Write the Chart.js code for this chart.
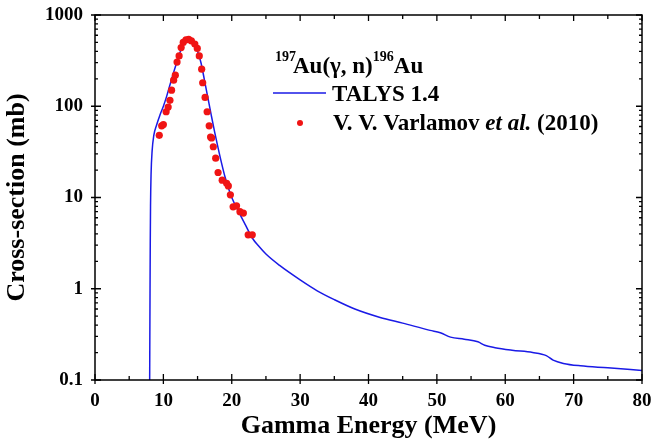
<!DOCTYPE html>
<html>
<head>
<meta charset="utf-8">
<script src="https://cdn.jsdelivr.net/npm/chart.js@4.4.1/dist/chart.umd.min.js"></script>
<style>
  body { margin: 0; background: #fff; }
  #wrap { width: 652px; height: 446px; position: relative; }
</style>
</head>
<body>
<div id="wrap"><canvas id="myChart"></canvas></div>
<script>
// TALYS 1.4 calculation (MeV, mb)
var talysE = [7.98, 8.02, 8.05, 8.08, 8.12, 8.2, 8.35, 8.6, 9.0, 9.5, 10.0, 10.5, 11.0, 11.5, 12.0, 12.5, 13.0, 13.5, 13.8, 14.2, 14.6, 15.0, 15.5, 16.0, 16.5, 17.0, 17.5, 18.0, 18.5, 19.0, 19.5, 20.0, 21.0, 22.0, 23.0, 24.0, 25.0, 27.0, 30.0, 32.5, 35.0, 38.0, 41.7, 45.0, 49.0, 50.5, 52.0, 54.0, 56.0, 57.0, 58.5, 61.0, 64.0, 66.0, 67.0, 68.5, 71.0, 75.0, 80.0];
var talysXS = [0.05, 0.3, 1, 3, 8, 18, 32, 48, 62, 80, 100, 130, 175, 235, 310, 400, 490, 555, 565, 545, 480, 400, 300, 195, 125, 80, 52, 35, 24, 17, 12.8, 10, 7, 5, 3.6, 2.9, 2.4, 1.8, 1.25, 0.95, 0.76, 0.6, 0.485, 0.42, 0.35, 0.33, 0.295, 0.28, 0.262, 0.24, 0.226, 0.212, 0.2, 0.185, 0.165, 0.152, 0.143, 0.136, 0.127];

// V. V. Varlamov et al. (2010)
var expE = [9.4, 9.75, 10.0, 10.4, 10.7, 10.96, 11.2, 11.5, 11.75, 12.0, 12.3, 12.6, 12.9, 13.3, 13.7, 14.1, 14.6, 14.96, 15.25, 15.6, 15.75, 16.1, 16.4, 16.7, 16.9, 17.05, 17.3, 17.65, 18.0, 18.6, 19.25, 19.5, 19.8, 20.2, 20.7, 21.2, 21.7, 22.4, 23.0];
var expXS = [48, 61, 63, 87, 98, 116, 150, 193, 219, 305, 356, 440, 500, 535, 540, 520, 480, 430, 356, 255, 181, 125, 87, 61, 46, 45, 36, 27, 18.8, 15.5, 14.3, 13.4, 10.7, 7.9, 8.1, 7.0, 6.75, 3.9, 3.9];

var xTicks = [0, 10, 20, 30, 40, 50, 60, 70, 80];
var yTicks = [0.1, 1, 10, 100, 1000];

var serif = "'Liberation Serif', 'Times New Roman', serif";

var frame = {
  id: "frame",
  afterDraw: function (chart) {
    var ctx = chart.ctx, a = chart.chartArea;
    var xs = chart.scales.x, ys = chart.scales.y;
    ctx.save();
    ctx.strokeStyle = "#000";
    ctx.lineWidth = 1.5;
    ctx.strokeRect(a.left, a.top, a.right - a.left, a.bottom - a.top);
    ctx.lineWidth = 1.3;
    ctx.beginPath();
    // x ticks: majors every 10, minors every 5
    for (var v = 0; v <= 80; v += 5) {
      var px = xs.getPixelForValue(v);
      var len = v % 10 === 0 ? 6 : 4;
      ctx.moveTo(px, a.bottom); ctx.lineTo(px, a.bottom - len);
      ctx.moveTo(px, a.top); ctx.lineTo(px, a.top + len);
      if (v % 10 === 0) { ctx.moveTo(px, a.bottom); ctx.lineTo(px, a.bottom + 4); }
    }
    // y ticks: decades + minors
    for (var d = 0; d < yTicks.length; d++) {
      var base = yTicks[d];
      var py = ys.getPixelForValue(base);
      ctx.moveTo(a.left - 4, py); ctx.lineTo(a.left + 6, py);
      ctx.moveTo(a.right, py); ctx.lineTo(a.right - 6, py);
      if (d < yTicks.length - 1) {
        for (var m = 2; m <= 9; m++) {
          var pm = ys.getPixelForValue(base * m);
          ctx.moveTo(a.left, pm); ctx.lineTo(a.left + 3, pm);
          ctx.moveTo(a.right, pm); ctx.lineTo(a.right - 3, pm);
        }
      }
    }
    ctx.stroke();

    // legend
    ctx.fillStyle = "#000";
    ctx.textBaseline = "alphabetic";
    ctx.font = "bold 14px " + serif;
    ctx.fillText("197", 275, 61);
    ctx.font = "bold 23px " + serif;
    var w = ctx.measureText("Au(\u03b3, n)").width;
    ctx.fillText("Au(\u03b3, n)", 293, 73);
    ctx.font = "bold 14px " + serif;
    ctx.fillText("196", 293 + w, 61);
    var w2 = ctx.measureText("196").width;
    ctx.font = "bold 23px " + serif;
    ctx.fillText("Au", 293 + w + w2, 73);

    ctx.strokeStyle = "#1a1ae6";
    ctx.lineWidth = 1.5;
    ctx.beginPath();
    ctx.moveTo(273, 93); ctx.lineTo(326, 93);
    ctx.stroke();
    ctx.fillText("TALYS 1.4", 332, 101);

    ctx.fillStyle = "#f01414";
    ctx.beginPath();
    ctx.arc(300, 123, 3, 0, Math.PI * 2);
    ctx.fill();
    ctx.fillStyle = "#000";
    var t1 = "V. V. Varlamov ";
    ctx.fillText(t1, 333, 130);
    var x1 = 333 + ctx.measureText(t1).width;
    ctx.font = "italic bold 23px " + serif;
    ctx.fillText("et al.", x1, 130);
    var x2 = x1 + ctx.measureText("et al. ").width;
    ctx.font = "bold 23px " + serif;
    ctx.fillText("(2010)", x2, 130);
    ctx.restore();
  }
};

var ctx = document.getElementById("myChart").getContext("2d");
var myChart = new Chart(ctx, {
  type: "scatter",
  data: {
    datasets: [
      {
        label: "TALYS 1.4",
        data: talysE.map(function (e, i) { return { x: e, y: talysXS[i] }; }),
        showLine: true,
        borderColor: "#1a1ae6",
        borderWidth: 1.5,
        pointRadius: 0,
        cubicInterpolationMode: "monotone",
        fill: false,
        order: 2
      },
      {
        label: "V. V. Varlamov et al. (2010)",
        data: expE.map(function (e, i) { return { x: e, y: expXS[i] }; }),
        showLine: false,
        pointRadius: 3.6,
        pointBackgroundColor: "#f01414",
        pointBorderWidth: 0,
        order: 1
      }
    ]
  },
  options: {
    responsive: true,
    maintainAspectRatio: false,
    animation: false,
    layout: { padding: { left: 0, right: 10, top: 15, bottom: 0 } },
    plugins: { legend: { display: false }, tooltip: { enabled: false } },
    scales: {
      x: {
        type: "linear",
        min: 0,
        max: 80,
        afterFit: function (s) { s.height = 66; s.paddingLeft = 0; s.paddingRight = 0; },
        afterBuildTicks: function (s) { s.ticks = xTicks.map(function (v) { return { value: v }; }); },
        grid: { display: false, drawTicks: false },
        border: { display: false },
        ticks: { color: "#000", padding: 10, font: { family: serif, size: 19, weight: "bold" } },
        title: { display: true, text: "Gamma Energy (MeV)", color: "#000", padding: { top: 0, bottom: 4 }, font: { family: serif, size: 26, weight: "bold" } }
      },
      y: {
        type: "logarithmic",
        min: 0.1,
        max: 1000,
        afterFit: function (s) { s.width = 95; s.paddingTop = 0; s.paddingBottom = 0; },
        afterBuildTicks: function (s) { s.ticks = yTicks.map(function (v) { return { value: v }; }); },
        grid: { display: false, drawTicks: false },
        border: { display: false },
        ticks: {
          color: "#000", padding: 12,
          font: { family: serif, size: 19, weight: "bold" },
          callback: function (v) { return String(v); }
        },
        title: { display: true, text: "Cross-section (mb)", color: "#000", padding: { top: 2, bottom: 0 }, font: { family: serif, size: 26, weight: "bold" } }
      }
    }
  },
  plugins: [frame]
});
</script>
</body>
</html>
